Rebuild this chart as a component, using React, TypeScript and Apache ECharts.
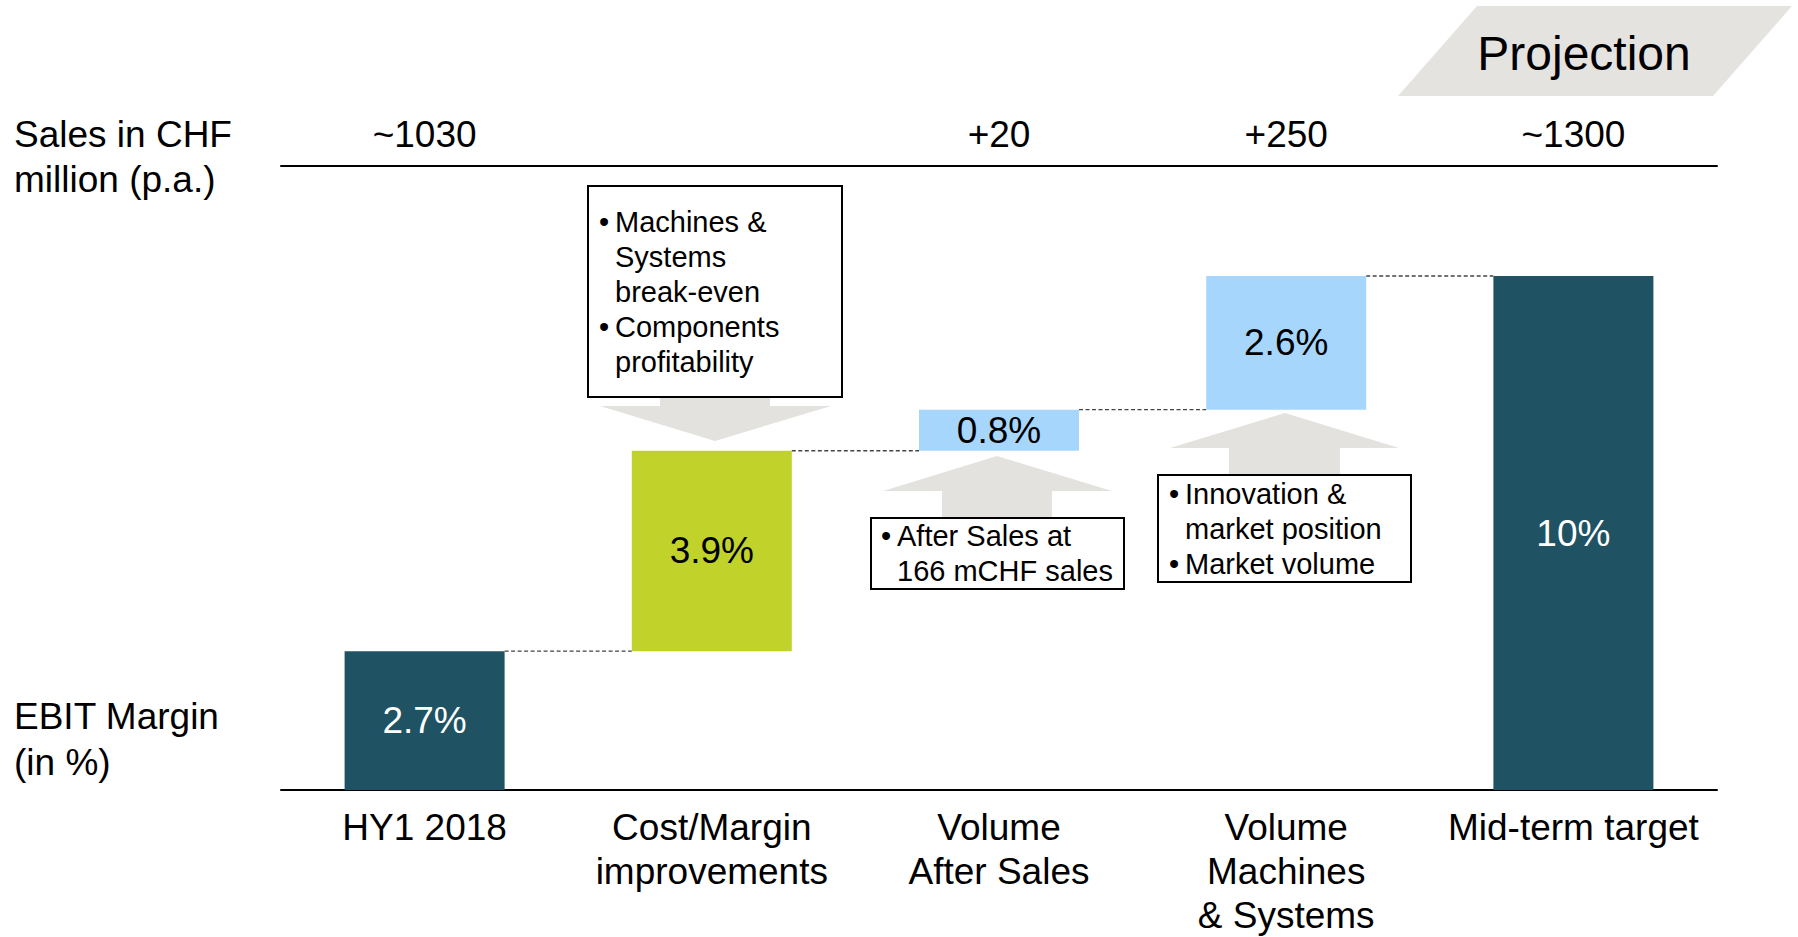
import React, { useEffect, useRef } from "react";
import * as echarts from "echarts";

// ---------- data ----------
const categories = [
  "HY1 2018",
  "Cost/Margin\nimprovements",
  "Volume\nAfter Sales",
  "Volume\nMachines\n& Systems",
  "Mid-term target",
];
const salesLabels = ["~1030", "", "+20", "+250", "~1300"];
const marginValues = [2.7, 3.9, 0.8, 2.6, 10];
const barKinds = ["total", "delta", "delta", "delta", "total"];
const marginLabels = ["2.7%", "3.9%", "0.8%", "2.6%", "10%"];
const barColors = ["#1f5263", "#c1d22b", "#a6d6fc", "#a6d6fc", "#1f5263"];
const labelColors = ["#ffffff", "#000000", "#000000", "#000000", "#ffffff"];

const leftTitleTop = ["Sales in CHF", "million (p.a.)"];
const leftTitleBottom = ["EBIT Margin", "(in %)"];
const projectionLabel = "Projection";

const noteCost = [
  { bullet: true, text: "Machines &" },
  { bullet: false, text: "Systems" },
  { bullet: false, text: "break-even" },
  { bullet: true, text: "Components" },
  { bullet: false, text: "profitability" },
];
const noteAfterSales = [
  { bullet: true, text: "After Sales at" },
  { bullet: false, text: "166 mCHF sales" },
];
const noteMachines = [
  { bullet: true, text: "Innovation &" },
  { bullet: false, text: "market position" },
  { bullet: true, text: "Market volume" },
];

// ---------- derived ----------
const baseValues: number[] = [];
const connectorLevels: number[][] = [];
{
  let running = 0;
  marginValues.forEach((v, i) => {
    if (barKinds[i] === "total") {
      baseValues.push(0);
      running = v;
    } else {
      baseValues.push(running);
      running = running + v;
    }
    if (i < marginValues.length - 1) connectorLevels.push([i, running]);
  });
}

const FONT = "'Liberation Sans', Arial, Helvetica, sans-serif";
const BAR_W = 160;
const ARROW_GRAY = "#e3e2de";

function noteGraphics(
  lines: { bullet: boolean; text: string }[],
  box: { x: number; y: number; w: number; h: number },
  firstY: number,
  bulletX: number,
  textX: number
) {
  const els: any[] = [
    {
      type: "rect",
      shape: { x: box.x, y: box.y, width: box.w, height: box.h },
      style: { fill: "#ffffff", stroke: "#000000", lineWidth: 2 },
      z: 10,
    },
  ];
  lines.forEach((ln, i) => {
    const y = firstY + i * 35;
    if (ln.bullet) {
      els.push({
        type: "text",
        x: bulletX,
        y,
        style: {
          text: "•",
          fontSize: 29,
          fontFamily: FONT,
          fill: "#000",
          align: "left",
          verticalAlign: "middle",
        },
        z: 11,
      });
    }
    els.push({
      type: "text",
      x: textX,
      y,
      style: {
        text: ln.text,
        fontSize: 29,
        fontFamily: FONT,
        fill: "#000",
        align: "left",
        verticalAlign: "middle",
      },
      z: 11,
    });
  });
  return els;
}

export default function App() {
  const ref = useRef<HTMLDivElement>(null);

  useEffect(() => {
    if (!ref.current) return;
    const chart = echarts.init(ref.current, undefined, { renderer: "svg" });

    const leftText = (lines: string[], ys: number[]) =>
      lines.map((t, i) => ({
        type: "text",
        x: 14,
        y: ys[i],
        style: {
          text: t,
          fontSize: 37,
          fontFamily: FONT,
          fill: "#000",
          align: "left",
          verticalAlign: "middle",
        },
      }));

    const arrowStyle = { fill: ARROW_GRAY };

    const option: any = {
      animation: false,
      textStyle: { fontFamily: FONT },
      grid: { left: 281, right: 81, top: 165.5, bottom: 147, containLabel: false },
      xAxis: [
        {
          type: "category",
          data: categories,
          position: "bottom",
          axisLine: { show: true, lineStyle: { color: "#000", width: 2 } },
          axisTick: { show: false },
          axisLabel: {
            interval: 0,
            fontSize: 37,
            lineHeight: 44,
            color: "#000",
            margin: 15,
            fontFamily: FONT,
          },
          splitLine: { show: false },
        },
        {
          type: "category",
          data: salesLabels,
          position: "top",
          axisLine: { show: true, lineStyle: { color: "#000", width: 2 } },
          axisTick: { show: false },
          axisLabel: {
            interval: 0,
            fontSize: 37,
            lineHeight: 44,
            color: "#000",
            margin: 9,
            fontFamily: FONT,
          },
          splitLine: { show: false },
        },
      ],
      yAxis: {
        type: "value",
        min: 0,
        max: 12.15,
        show: false,
        splitLine: { show: false },
      },
      series: [
        {
          type: "bar",
          stack: "wf",
          barWidth: BAR_W,
          data: baseValues,
          itemStyle: { color: "transparent" },
          silent: true,
        },
        {
          type: "bar",
          stack: "wf",
          barWidth: BAR_W,
          data: marginValues.map((v, i) => ({
            value: v,
            itemStyle: { color: barColors[i] },
            label: {
              show: true,
              position: "inside",
              formatter: marginLabels[i],
              color: labelColors[i],
              fontSize: 37,
              fontFamily: FONT,
            },
          })),
        },
        {
          type: "custom",
          xAxisIndex: 0,
          yAxisIndex: 0,
          z: 1,
          data: connectorLevels,
          renderItem: (params: any, api: any) => {
            const i = api.value(0);
            const lvl = api.value(1);
            const p0 = api.coord([i, lvl]);
            const p1 = api.coord([i + 1, lvl]);
            return {
              type: "line",
              shape: {
                x1: p0[0] + BAR_W / 2,
                y1: p0[1],
                x2: p1[0] - BAR_W / 2,
                y2: p1[1],
              },
              style: { stroke: "#444444", lineWidth: 1.3, lineDash: [4, 2.5] },
            };
          },
        },
      ],
      graphic: [
        ...leftText(leftTitleTop, [134, 179]),
        ...leftText(leftTitleBottom, [716, 762]),
        {
          type: "polygon",
          shape: {
            points: [
              [1477, 6],
              [1792, 6],
              [1713, 96],
              [1398, 96],
            ],
          },
          style: { fill: "#e4e3e0" },
        },
        {
          type: "text",
          x: 1584,
          y: 53,
          style: {
            text: projectionLabel,
            fontSize: 48,
            fontFamily: FONT,
            fill: "#000",
            align: "center",
            verticalAlign: "middle",
          },
        },
        {
          type: "polygon",
          shape: {
            points: [
              [660, 396],
              [770, 396],
              [770, 406],
              [831, 406],
              [715, 441],
              [600, 406],
              [660, 406],
            ],
          },
          style: arrowStyle,
          z: 5,
        },
        {
          type: "polygon",
          shape: {
            points: [
              [997, 456],
              [1112, 491],
              [1052, 491],
              [1052, 518],
              [942, 518],
              [942, 491],
              [883, 491],
            ],
          },
          style: arrowStyle,
          z: 5,
        },
        {
          type: "polygon",
          shape: {
            points: [
              [1285, 413],
              [1399, 448],
              [1340, 448],
              [1340, 475],
              [1229, 475],
              [1229, 448],
              [1170, 448],
            ],
          },
          style: arrowStyle,
          z: 5,
        },
        ...noteGraphics(noteCost, { x: 588, y: 186, w: 254, h: 211 }, 222, 599, 615),
        ...noteGraphics(noteAfterSales, { x: 871, y: 518, w: 253, h: 71 }, 536, 881, 897),
        ...noteGraphics(noteMachines, { x: 1158, y: 475, w: 253, h: 107 }, 494, 1169, 1185),
      ],
    };

    chart.setOption(option);
    return () => chart.dispose();
  }, []);

  return (
    <div
      ref={ref}
      style={{ position: "absolute", left: 0, top: 0, width: 1798, height: 937, background: "#fff" }}
    />
  );
}
